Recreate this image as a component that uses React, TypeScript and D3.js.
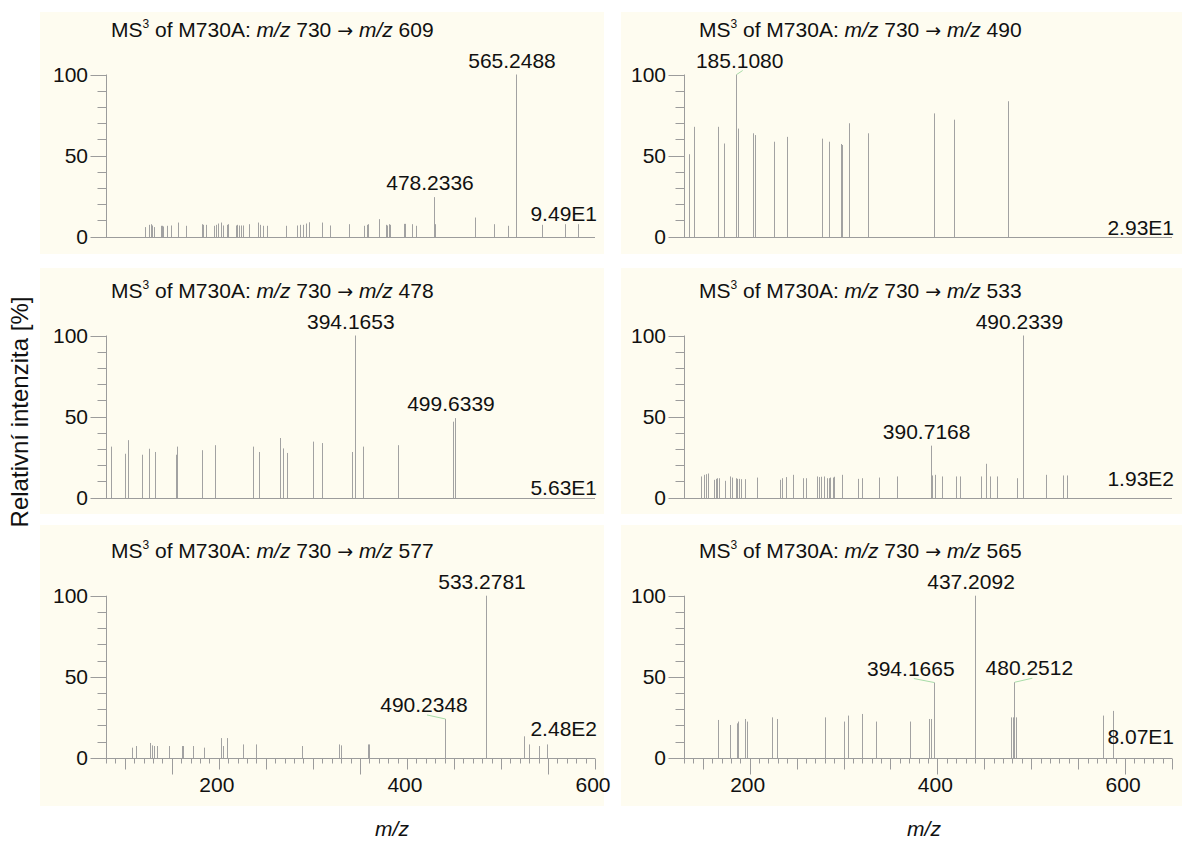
import React from 'react';
import * as d3 from 'd3';

// MS3 spectra of M730A: precursor m/z of each panel, in reading order
const precursors = [609, 490, 478, 533, 577, 565];
const baseIntensities = ['9.49E1', '2.93E1', '5.63E1', '1.93E2', '2.48E2', '8.07E1'];

// [m/z, relative intensity %]
const peaks609: [number, number][] = [
  [121.5, 5.8], [126.1, 7.2], [127.5, 7.6], [129.3, 6.8], [130.7, 5.8], [138.5, 6.6], [139.9, 6.6],
  [141.0, 6.2], [144.5, 6.6], [149.1, 6.8], [156.9, 8.6], [165.1, 6.6], [181.7, 7.6], [183.5, 7.2],
  [186.3, 7.2], [195.2, 6.6], [197.0, 7.2], [198.7, 8.0], [202.6, 8.6], [204.4, 6.8], [208.3, 7.2],
  [209.4, 7.6], [218.2, 6.8], [219.3, 7.2], [221.8, 6.8], [223.6, 6.8], [226.0, 6.8], [232.4, 7.6],
  [242.0, 8.6], [243.8, 7.2], [247.3, 6.6], [250.8, 6.6], [271.1, 6.6], [282.7, 6.8], [286.3, 7.2],
  [289.8, 7.2], [292.7, 8.0], [296.2, 8.8], [309.3, 8.6], [318.2, 6.8], [338.7, 7.6], [354.7, 6.6],
  [357.2, 7.2], [359.0, 7.6], [369.9, 10.7], [377.7, 7.2], [379.2, 6.8], [380.6, 7.6], [382.3, 7.2],
  [396.5, 7.8], [398.3, 7.8], [405.0, 7.6], [409.6, 6.6], [428.8, 24.3], [429.9, 7.6], [472.4, 11.7],
  [492.6, 7.6], [507.1, 6.6], [516.0, 100], [543.3, 7.2], [568.1, 7.6], [581.6, 7.6],
];
const peaks490: [number, number][] = [
  [135.3, 50.8], [140.2, 67.7], [165.8, 67.7], [172.2, 57.4], [185.6, 100], [187.5, 66.6],
  [203.9, 63.7], [205.8, 62.6], [226.0, 58.5], [240.1, 61.5], [277.0, 60.4], [285.0, 58.5],
  [297.3, 57.1], [298.3, 56.5], [305.6, 69.9], [325.8, 63.7], [396.2, 76.0], [418.0, 72.1],
  [475.2, 83.5],
];
const peaks478: [number, number][] = [
  [85.3, 31.4], [99.9, 27.0], [103.2, 35.4], [118.3, 26.4], [125.5, 30.1], [131.8, 28.1],
  [154.1, 26.4], [155.6, 31.4], [182.3, 29.2], [195.9, 32.3], [236.1, 31.4], [242.7, 28.1],
  [264.7, 36.7], [268.0, 30.3], [272.8, 27.5], [300.2, 34.5], [310.1, 33.6], [341.6, 28.1],
  [344.6, 100], [353.3, 31.4], [390.0, 32.3], [448.6, 46.8], [451.1, 49.0],
];
const peaks533: [number, number][] = [
  [148.5, 13.0], [151.0, 14.0], [153.1, 14.4], [155.6, 14.8], [162.0, 10.9], [163.8, 11.5],
  [165.2, 11.9], [167.4, 11.9], [174.1, 10.3], [178.7, 13.0], [181.2, 12.3], [185.1, 11.9],
  [186.6, 11.5], [188.7, 11.5], [190.5, 11.3], [194.7, 11.3], [207.9, 12.3], [232.8, 10.9],
  [234.6, 11.9], [239.2, 12.6], [246.3, 14.0], [256.3, 11.9], [259.8, 11.9], [271.9, 13.0],
  [274.0, 12.6], [276.5, 12.8], [279.0, 13.0], [282.6, 11.9], [284.4, 11.9], [286.1, 12.3],
  [288.3, 12.3], [290.0, 12.8], [298.6, 14.0], [314.9, 11.5], [319.2, 11.9], [337.7, 12.3],
  [356.5, 13.0], [392.8, 32.0], [394.6, 13.6], [397.4, 14.0], [405.3, 13.0], [419.8, 13.0],
  [424.1, 13.0], [446.5, 13.0], [451.5, 20.8], [456.1, 13.0], [463.2, 13.0], [485.3, 11.9],
  [491.7, 100], [515.8, 14.0], [534.3, 13.6], [537.9, 13.6],
];
const peaks577: [number, number][] = [
  [108.0, 6.2], [111.9, 7.2], [126.8, 9.1], [129.3, 7.6], [131.0, 7.2], [133.9, 7.2], [147.0, 7.2],
  [160.5, 7.2], [162.2, 7.2], [172.2, 7.2], [184.2, 6.2], [201.9, 12.1], [204.1, 7.2], [209.0, 12.1],
  [226.0, 8.2], [239.2, 8.2], [288.1, 7.2], [328.1, 8.2], [329.5, 7.6], [358.2, 8.2], [360.0, 8.2],
  [440.5, 23.9], [484.1, 100], [524.5, 13.2], [529.8, 8.2], [540.8, 7.2], [549.3, 8.2],
];
const peaks565: [number, number][] = [
  [165.8, 23.3], [179.2, 20.2], [186.0, 21.2], [187.9, 22.3], [195.5, 23.9], [197.4, 22.3],
  [224.1, 24.9], [229.4, 23.9], [280.1, 24.9], [300.2, 22.3], [304.8, 26.0], [319.3, 27.0],
  [334.2, 22.3], [370.7, 22.3], [390.6, 23.9], [393.3, 23.9], [396.2, 46.4], [440.1, 100],
  [478.2, 24.9], [480.1, 24.9], [482.0, 46.6], [483.9, 24.9], [576.5, 26.0], [586.7, 28.9],
];

// annotated peaks: axis position of the stick and the printed mass
const labels609 = [{ mz: 516.0, text: '565.2488' }, { mz: 428.8, text: '478.2336' }];
const labels490 = [{ mz: 185.6, text: '185.1080' }];
const labels478 = [{ mz: 344.6, text: '394.1653' }, { mz: 451.1, text: '499.6339' }];
const labels533 = [{ mz: 491.7, text: '490.2339' }, { mz: 392.8, text: '390.7168' }];
const labels577 = [{ mz: 484.1, text: '533.2781' }, { mz: 440.5, text: '490.2348' }];
const labels565 = [
  { mz: 440.1, text: '437.2092' }, { mz: 396.2, text: '394.1665' }, { mz: 482.0, text: '480.2512' },
];

const xTickLabels = [200, 400, 600];
const yTickLabels = [0, 50, 100];
const leftLongTicks = [150, 350, 550];
const rightLongTicks = [200, 400, 600];

// layout
const FONT = '"Liberation Sans", Arial, Helvetica, sans-serif';
const BG = '#fefcf0';
const STICK = '#a2a2a2';
const AXIS = '#9c9c9c';
const INK = '#111';
const FS = 21;
const PLOT_H = 162;

const columns = [
  { bg: [40, 604], range: [106, 595], domain: [80, 600], titleX: 111, longTicks: leftLongTicks, axisTitleX: 392 },
  { bg: [621, 1182], range: [684, 1172], domain: [130, 650], titleX: 699, longTicks: rightLongTicks, axisTitleX: 924 },
];
const rows = [
  { base: 236.5, bg: [12, 254] },
  { base: 497.5, bg: [268, 514] },
  { base: 757.7, bg: [525, 806] },
];
const baseIntensityLift = [16, 2, 3, 12, 22, 14];
const labelShift: Record<string, number> = {
  '185.1080': 3.5, '490.2348': -21, '394.1665': -23, '480.2512': 15,
};
const withLeader = new Set(['185.1080', '490.2348', '394.1665', '480.2512']);

const panels = [
  { peaks: peaks609, labels: labels609 },
  { peaks: peaks490, labels: labels490 },
  { peaks: peaks478, labels: labels478 },
  { peaks: peaks533, labels: labels533 },
  { peaks: peaks577, labels: labels577 },
  { peaks: peaks565, labels: labels565 },
].map((p, i) => ({ ...p, precursor: precursors[i], base: baseIntensities[i], col: i % 2, row: Math.floor(i / 2) }));

type PanelData = (typeof panels)[number];

const Panel = ({ p, i }: { p: PanelData; i: number }) => {
  const col = columns[p.col];
  const row = rows[p.row];
  const x = d3.scaleLinear().domain(col.domain).range(col.range);
  const y = d3.scaleLinear().domain([0, 100]).range([row.base, row.base - PLOT_H]);
  const px = (v: number) => Math.round(x(v)) + 0.5;
  const bottom = p.row === rows.length - 1;
  const yAxisX = col.range[0] + 0.5;
  const xEnd = col.range[1];
  const y0 = Math.round(y(0)) + 0.5;

  const heightAt = (mz: number) => {
    const hit = d3.least(p.peaks, d => Math.abs(d[0] - mz));
    return hit ? hit[1] : 0;
  };

  const minorY = d3.range(0, 101, 10);
  const minorX = d3.range(col.domain[0], col.domain[1] + 0.1, 10);

  return (
    <g>
      <rect x={col.bg[0]} y={row.bg[0]} width={col.bg[1] - col.bg[0]} height={row.bg[1] - row.bg[0]} fill={BG} />

      {/* title */}
      <text x={col.titleX} y={row.base - 200} fontSize={FS} fill={INK}>
        MS<tspan fontSize={12} dy={-9}>3</tspan>
        <tspan dy={9}> of M730A: </tspan>
        <tspan fontStyle="italic">m/z</tspan>
        <tspan> 730 </tspan>
        <tspan fontFamily="DejaVu Sans" fontSize={19}>→</tspan>
        <tspan> </tspan>
        <tspan fontStyle="italic">m/z</tspan>
        <tspan> {p.precursor}</tspan>
      </text>

      {/* sticks */}
      {p.peaks.map(([m, h], k) => (
        <line key={k} x1={px(m)} x2={px(m)} y1={y0} y2={y(h)} stroke={STICK} strokeWidth={1} />
      ))}

      {/* y axis */}
      <line x1={yAxisX} x2={yAxisX} y1={y0} y2={y(100)} stroke={AXIS} />
      {minorY.map(t => {
        const major = yTickLabels.includes(t);
        const yy = Math.round(y(t)) + 0.5;
        return <line key={t} x1={yAxisX - (major ? 16 : 9)} x2={yAxisX} y1={yy} y2={yy} stroke={AXIS} />;
      })}
      {yTickLabels.map(t => (
        <text key={t} x={col.range[0] - 18} y={y(t) + 7.5} fontSize={FS} fill={INK} textAnchor="end">
          {t}
        </text>
      ))}

      {/* x axis */}
      <line x1={col.range[0]} x2={xEnd} y1={y0} y2={y0} stroke={AXIS} />
      {bottom &&
        minorX.map(t => {
          const len = col.longTicks.includes(t) ? 16 : t % 50 === 0 ? 11 : 5;
          return <line key={t} x1={px(t)} x2={px(t)} y1={y0} y2={y0 + len} stroke={AXIS} />;
        })}
      {bottom &&
        xTickLabels.map(t => (
          <text key={t} x={x(t) - 2} y={y(0) + 34} fontSize={FS} fill={INK} textAnchor="middle">
            {t}
          </text>
        ))}
      {bottom && (
        <text x={col.axisTitleX} y={836} fontSize={FS} fill={INK} fontStyle="italic" textAnchor="middle">
          m/z
        </text>
      )}

      {/* base peak intensity */}
      <text x={xEnd + 2} y={y(0) - baseIntensityLift[i]} fontSize={FS} fill={INK} textAnchor="end">
        {p.base}
      </text>

      {/* peak annotations */}
      {p.labels.map(l => {
        const top = y(heightAt(l.mz));
        const cx = x(l.mz) + (labelShift[l.text] ?? -4);
        const by = top - 7;
        return (
          <g key={l.text}>
            {withLeader.has(l.text) && (
              <line x1={x(l.mz) + 0.5} y1={top} x2={cx + 3} y2={by + 3} stroke="#a8dca8" strokeWidth={1} />
            )}
            <text x={cx} y={by} fontSize={FS} fill={INK} textAnchor="middle">
              {l.text}
            </text>
          </g>
        );
      })}
    </g>
  );
};

export default function App() {
  return (
    <svg
      width={1182}
      height={842}
      style={{ position: 'absolute', left: 0, top: 0, background: '#fff' }}
      fontFamily={FONT}
    >
      {panels.map((p, i) => (
        <Panel key={i} p={p} i={i} />
      ))}
      <text transform="translate(28,412) rotate(-90)" fontSize={24} fill={INK} textAnchor="middle">
        Relativní intenzita [%]
      </text>
    </svg>
  );
}
